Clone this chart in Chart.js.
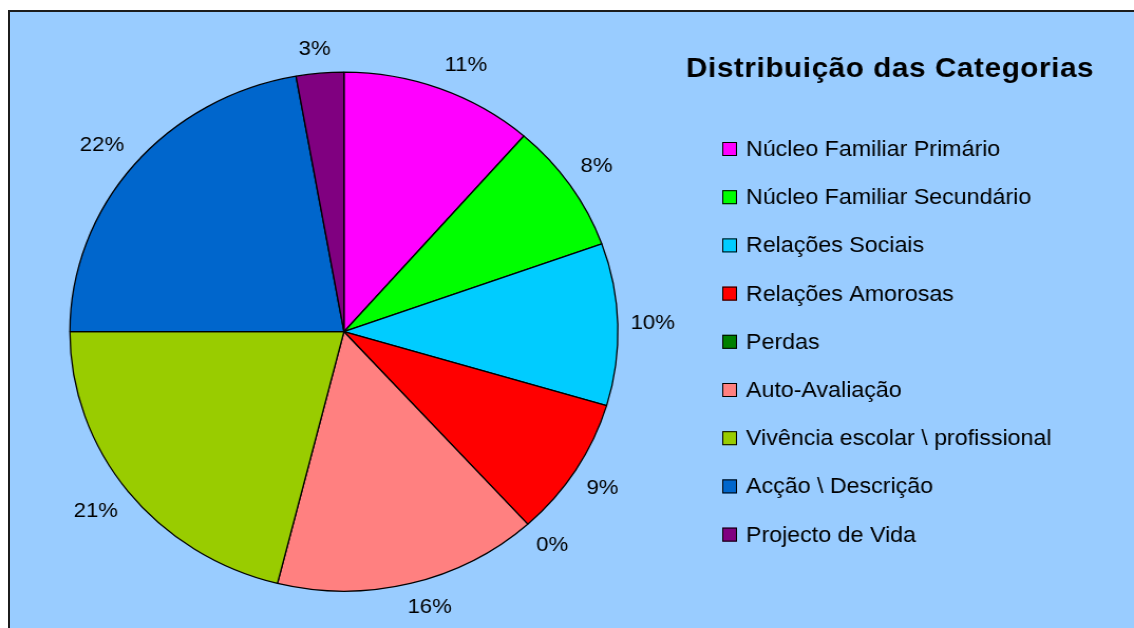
<!DOCTYPE html>
<html>
<head>
<meta charset="utf-8">
<script src="https://cdn.jsdelivr.net/npm/chart.js@4.4.1/dist/chart.umd.min.js"></script>
<style>
    html, body { margin: 0; padding: 0; background: #ffffff; overflow: hidden; }
    #frame {
        position: absolute; left: 8px; top: 10px; width: 1140px; height: 630px;
        background: #99ccff; border: 2px solid #1c1c1c;
    }
    #chart { position: absolute; left: 0; top: 0; }
</style>
</head>
<body>
<div id="frame"></div>
<!-- the original chart is stretched a little in width, so the canvas is too -->
<canvas id="chart" width="1074" height="628" style="width:1134px;height:628px"></canvas>
<script>
// Data
const categories = [
    'Núcleo Familiar Primário',
    'Núcleo Familiar Secundário',
    'Relações Sociais',
    'Relações Amorosas',
    'Perdas',
    'Auto-Avaliação',
    'Vivência escolar \\ profissional',
    'Acção \\ Descrição',
    'Projecto de Vida'
];
const shares = [11.4, 8.1, 10.1, 8.7, 0, 15.6, 21.1, 22.2, 2.8];
const sliceColors = ['#ff00ff', '#00ff00', '#00ccff', '#ff0000', '#008000', '#ff8080', '#99cc00', '#0066cc', '#800080'];
const chartTitle = 'Distribuição das Categorias';

const FONT = '"Liberation Sans", Arial, sans-serif';

// Percent labels outside the pie, Excel style
const outsideLabels = {
    id: 'outsideLabels',
    afterDatasetsDraw(chart) {
        const ctx = chart.ctx;
        const meta = chart.getDatasetMeta(0);
        const data = chart.data.datasets[0].data;
        const total = data.reduce((a, b) => a + b, 0);
        ctx.save();
        ctx.font = '21px ' + FONT;
        ctx.fillStyle = '#000';
        ctx.textAlign = 'center';
        ctx.textBaseline = 'middle';
        const clamp = v => Math.max(-1, Math.min(1, v));
        meta.data.forEach((arc, i) => {
            const text = Math.round(data[i] / total * 100) + '%';
            const mid = (arc.startAngle + arc.endAngle) / 2;
            const cx = Math.cos(mid), cy = Math.sin(mid);
            const hw = ctx.measureText(text).width / 2;
            const hh = 12;
            const gap = 12;
            const px = arc.x + cx * arc.outerRadius;
            const py = arc.y + cy * arc.outerRadius;
            const lx = px + cx * gap + hw * clamp(3 * cx);
            const ly = py + cy * gap + hh * clamp(3 * cy);
            ctx.fillText(text, lx, ly);
        });
        ctx.restore();
    }
};

// Title and legend on the right side
const sideLegend = {
    id: 'sideLegend',
    afterDraw(chart) {
        const ctx = chart.ctx;
        ctx.save();
        ctx.fillStyle = '#000';
        ctx.font = 'bold 28px ' + FONT;
        ctx.textAlign = 'center';
        ctx.textBaseline = 'alphabetic';
        ctx.letterSpacing = '0.6px';
        ctx.fillText(chartTitle, 843, 77);
        ctx.letterSpacing = '0px';

        ctx.font = '22px ' + FONT;
        ctx.textAlign = 'left';
        chart.data.labels.forEach((label, i) => {
            const base = 156 + i * 48.2;
            ctx.fillStyle = chart.data.datasets[0].backgroundColor[i];
            ctx.fillRect(684, base - 14, 14, 14);
            ctx.strokeStyle = '#000';
            ctx.lineWidth = 1;
            ctx.strokeRect(684.5, base - 13.5, 13, 13);
            ctx.fillStyle = '#000';
            ctx.fillText(label, 706.5, base);
        });
        ctx.restore();
    }
};

new Chart(document.getElementById('chart'), {
    type: 'pie',
    data: {
        labels: categories,
        datasets: [{
            data: shares,
            backgroundColor: sliceColors,
            borderColor: '#000',
            borderWidth: 1.3,
            radius: 259.5
        }]
    },
    options: {
        responsive: false,
        animation: false,
        devicePixelRatio: 1,
        layout: {
            padding: { left: 66, right: 488.5, top: 72, bottom: 36.6 }
        },
        plugins: {
            legend: { display: false },
            title: { display: false },
            tooltip: { enabled: false }
        }
    },
    plugins: [outsideLabels, sideLegend]
});
</script>
</body>
</html>
